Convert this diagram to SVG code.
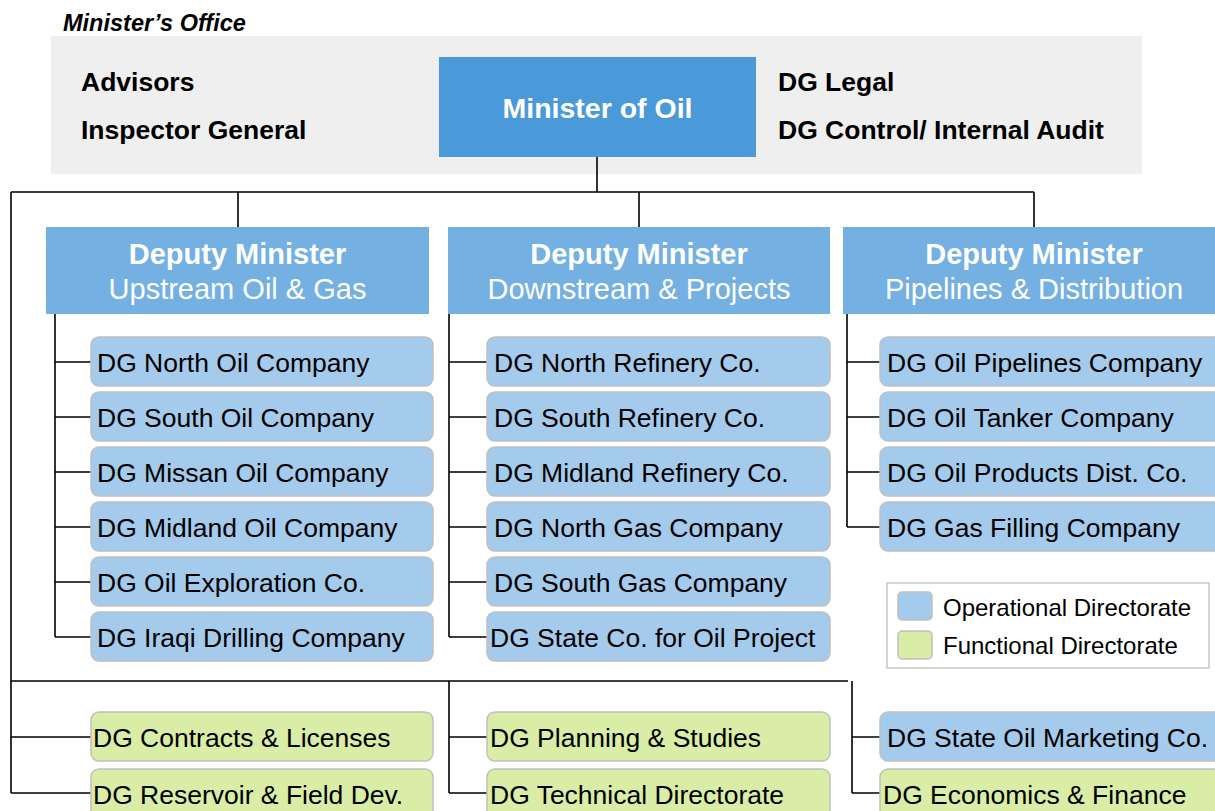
<svg xmlns="http://www.w3.org/2000/svg" width="1215" height="811" viewBox="0 0 1215 811">
<style>
text{font-family:"Liberation Sans",Arial,sans-serif}
.hd{font-size:26.5px;font-weight:bold;fill:#000}
.dm{fill:#74b0e2}
.dt1{font-size:29px;font-weight:bold;fill:#fff}
.dt2{font-size:29px;fill:#fff}
.op{fill:#a5cbec;stroke:#c0c0c0;stroke-width:1.5}
.fn{fill:#d9eda6;stroke:#c0c0c0;stroke-width:1.5}
.ct{font-size:26.5px;fill:#000}
.lg{font-size:24px;fill:#000}
.cn{fill:none;stroke:#000;stroke-width:1.6}
</style>
<rect width="1215" height="811" fill="#fff"/>
<g id="office">
<text x="63" y="31" style="font-size:23.5px;font-weight:bold;font-style:italic">Minister’s Office</text>
<rect x="51" y="36" width="1091" height="138" fill="#efefef"/>
<text class="hd" x="81" y="91">Advisors</text>
<text class="hd" x="81" y="139">Inspector General</text>
<text class="hd" x="778" y="91">DG Legal</text>
<text class="hd" x="778" y="139">DG Control/ Internal Audit</text>
</g>
<g id="minister">
<rect x="439" y="57" width="317" height="100" fill="#4a9ad9"/>
<text x="597.5" y="118" text-anchor="middle" style="font-size:28.5px;font-weight:bold;fill:#fff">Minister of Oil</text>
</g>
<g id="connectors" class="cn">
<path d="M597 157V192M11 192H1034M238 192V227M639 192V227M1034 192V227M11 192V793"/>
<path d="M55 314V637M55 362H91M55 417H91M55 472H91M55 527H91M55 582H91M55 637H91"/>
<path d="M449 314V637M449 362H487M449 417H487M449 472H487M449 527H487M449 582H487M449 637H487"/>
<path d="M847 314V527M847 362H880M847 417H880M847 472H880M847 527H880"/>
<path d="M11 681H848M11 737H91M11 793H91"/>
<path d="M449 681V793M449 737H487M449 793H487"/>
<path d="M852 681V793M852 737H880M852 793H880"/>
</g>
<g id="dep-upstream">
<rect class="dm" x="46" y="227" width="383" height="87"/>
<text class="dt1" x="237.5" y="264" text-anchor="middle">Deputy Minister</text>
<text class="dt2" x="237.5" y="299" text-anchor="middle">Upstream Oil &amp; Gas</text>
</g>
<g id="dep-downstream">
<rect class="dm" x="448" y="227" width="382" height="87"/>
<text class="dt1" x="639" y="264" text-anchor="middle">Deputy Minister</text>
<text class="dt2" x="639" y="299" text-anchor="middle">Downstream &amp; Projects</text>
</g>
<g id="dep-pipelines">
<rect class="dm" x="843" y="227" width="382" height="87"/>
<text class="dt1" x="1034" y="264" text-anchor="middle">Deputy Minister</text>
<text class="dt2" x="1034" y="299" text-anchor="middle">Pipelines &amp; Distribution</text>
</g>
<g id="n-north-oil"><rect class="op" x="91" y="337" width="342" height="49" rx="8"/><text class="ct" x="97" y="372">DG North Oil Company</text></g>
<g id="n-south-oil"><rect class="op" x="91" y="392" width="342" height="49" rx="8"/><text class="ct" x="97" y="427">DG South Oil Company</text></g>
<g id="n-missan-oil"><rect class="op" x="91" y="447" width="342" height="49" rx="8"/><text class="ct" x="97" y="482">DG Missan Oil Company</text></g>
<g id="n-midland-oil"><rect class="op" x="91" y="502" width="342" height="49" rx="8"/><text class="ct" x="97" y="537">DG Midland Oil Company</text></g>
<g id="n-oil-exploration"><rect class="op" x="91" y="557" width="342" height="49" rx="8"/><text class="ct" x="97" y="592">DG Oil Exploration Co.</text></g>
<g id="n-iraqi-drilling"><rect class="op" x="91" y="612" width="342" height="49" rx="8"/><text class="ct" x="97" y="647">DG Iraqi Drilling Company</text></g>
<g id="n-north-refinery"><rect class="op" x="487" y="337" width="343" height="49" rx="8"/><text class="ct" x="494" y="372">DG North Refinery Co.</text></g>
<g id="n-south-refinery"><rect class="op" x="487" y="392" width="343" height="49" rx="8"/><text class="ct" x="494" y="427">DG South Refinery Co.</text></g>
<g id="n-midland-refinery"><rect class="op" x="487" y="447" width="343" height="49" rx="8"/><text class="ct" x="494" y="482">DG Midland Refinery Co.</text></g>
<g id="n-north-gas"><rect class="op" x="487" y="502" width="343" height="49" rx="8"/><text class="ct" x="494" y="537">DG North Gas Company</text></g>
<g id="n-south-gas"><rect class="op" x="487" y="557" width="343" height="49" rx="8"/><text class="ct" x="494" y="592">DG South Gas Company</text></g>
<g id="n-state-oil-project"><rect class="op" x="487" y="612" width="343" height="49" rx="8"/><text class="ct" x="490" y="647">DG State Co. for Oil Project</text></g>
<g id="n-oil-pipelines"><rect class="op" x="880" y="337" width="345" height="49" rx="8"/><text class="ct" x="887" y="372">DG Oil Pipelines Company</text></g>
<g id="n-oil-tanker"><rect class="op" x="880" y="392" width="345" height="49" rx="8"/><text class="ct" x="887" y="427">DG Oil Tanker Company</text></g>
<g id="n-oil-products"><rect class="op" x="880" y="447" width="345" height="49" rx="8"/><text class="ct" x="887" y="482">DG Oil Products Dist. Co.</text></g>
<g id="n-gas-filling"><rect class="op" x="880" y="502" width="345" height="49" rx="8"/><text class="ct" x="887" y="537">DG Gas Filling Company</text></g>
<g id="legend">
<rect x="887" y="583" width="322" height="85" fill="#fff" stroke="#c8c8c8" stroke-width="1.5"/>
<rect class="op" x="898" y="592" width="34" height="28" rx="4"/>
<text class="lg" x="943" y="616">Operational Directorate</text>
<rect class="fn" x="898" y="631" width="34" height="28" rx="4"/>
<text class="lg" x="943" y="654">Functional Directorate</text>
</g>
<g id="n-contracts"><rect class="fn" x="91" y="712" width="342" height="49" rx="8"/><text class="ct" x="93" y="747">DG Contracts &amp; Licenses</text></g>
<g id="n-reservoir"><rect class="fn" x="91" y="769" width="342" height="49" rx="8"/><text class="ct" x="93" y="804">DG Reservoir &amp; Field Dev.</text></g>
<g id="n-planning"><rect class="fn" x="487" y="712" width="343" height="49" rx="8"/><text class="ct" x="490" y="747">DG Planning &amp; Studies</text></g>
<g id="n-technical"><rect class="fn" x="487" y="769" width="343" height="49" rx="8"/><text class="ct" x="490" y="804">DG Technical Directorate</text></g>
<g id="n-state-oil-marketing"><rect class="op" x="880" y="712" width="345" height="49" rx="8"/><text class="ct" x="887" y="747">DG State Oil Marketing Co.</text></g>
<g id="n-economics"><rect class="fn" x="880" y="769" width="345" height="49" rx="8"/><text class="ct" x="883" y="804">DG Economics &amp; Finance</text></g>
</svg>
